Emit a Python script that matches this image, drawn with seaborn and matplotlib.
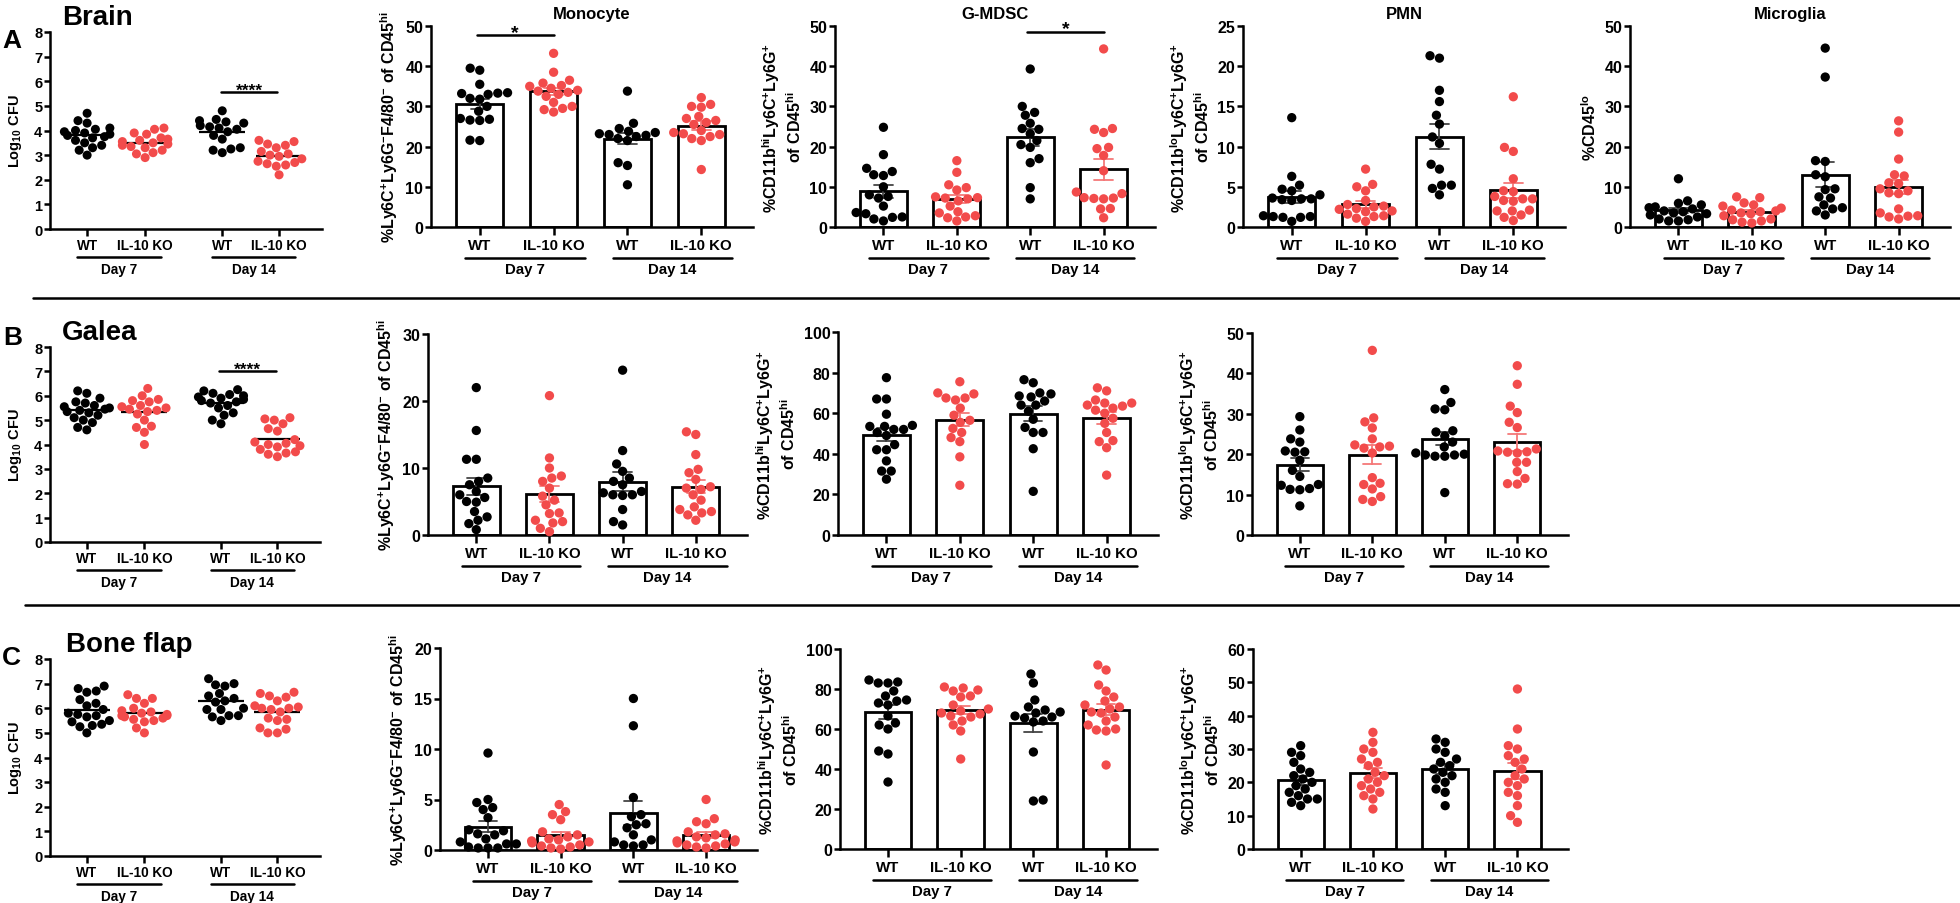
import numpy as np
import pandas as pd
import matplotlib
matplotlib.use("Agg")
import matplotlib.pyplot as plt
import matplotlib.transforms as mtransforms
from matplotlib.lines import Line2D
import seaborn as sns

# ---------------- data ----------------
group_names = ["WT D7", "KO D7", "WT D14", "KO D14"]
group_labels = ["WT", "IL-10 KO", "WT", "IL-10 KO"]
genotypes = ["WT", "IL-10 KO"]
day_labels = ["Day 7", "Day 14"]

# row A - brain
brain_cfu = [
    [4.7, 4.4, 4.3, 4.1, 4.05, 4.0, 3.95, 3.9, 3.85, 3.8, 3.75, 3.7, 3.6, 3.5, 3.4, 3.3, 3.2, 3.0],
    [4.1, 4.05, 3.9, 3.85, 3.7, 3.65, 3.6, 3.55, 3.5, 3.45, 3.4, 3.35, 3.3, 3.2, 3.1, 3.05, 2.9],
    [4.8, 4.45, 4.4, 4.35, 4.3, 4.2, 4.15, 4.1, 4.05, 3.95, 3.8, 3.65, 3.3, 3.25, 3.2, 3.1],
    [3.6, 3.55, 3.45, 3.4, 3.3, 3.15, 3.05, 3.0, 2.95, 2.85, 2.75, 2.7, 2.65, 2.6, 2.55, 2.2],
]
brain_mono = [
    [39.5, 39.0, 35.5, 33.4, 33.3, 33.2, 33.0, 32.0, 31.8, 30.0, 28.8, 27.0, 26.8, 26.6, 26.5, 21.6, 21.5],
    [43.2, 38.5, 36.5, 35.8, 35.2, 35.0, 34.5, 34.0, 33.8, 33.5, 33.0, 32.5, 31.0, 30.0, 29.5, 29.2, 28.6],
    [33.8, 25.8, 24.5, 23.8, 23.5, 23.2, 23.0, 22.8, 22.5, 22.0, 21.5, 16.0, 15.3, 10.5],
    [32.2, 30.5, 30.0, 29.8, 27.5, 27.0, 26.5, 26.0, 25.5, 24.0, 23.5, 23.2, 23.0, 22.5, 22.0, 21.5, 14.3],
]
brain_gmdsc = [
    [24.8, 18.0, 14.6, 13.8, 13.0, 12.8, 10.0, 8.0, 7.6, 7.2, 5.2, 3.6, 3.3, 2.5, 2.4, 2.0, 1.5],
    [16.5, 13.6, 10.5, 9.8, 9.2, 7.5, 7.3, 7.2, 7.0, 6.5, 5.2, 3.8, 3.5, 2.8, 2.5, 2.3, 1.5],
    [39.3, 30.0, 28.5, 27.8, 25.8, 24.5, 24.3, 23.2, 21.5, 20.5, 19.8, 17.0, 16.0, 9.8, 7.0],
    [44.3, 24.5, 24.3, 23.5, 19.8, 19.5, 17.8, 14.0, 8.7, 8.3, 7.3, 7.2, 7.1, 7.0, 4.6, 4.5, 2.3],
]
brain_pmn = [
    [13.6, 6.3, 5.2, 4.7, 4.5, 4.0, 3.6, 3.5, 3.5, 3.4, 3.3, 1.4, 1.3, 1.3, 1.2, 1.2, 0.7],
    [7.2, 5.3, 5.0, 4.5, 3.3, 2.8, 2.6, 2.5, 2.3, 2.2, 2.0, 1.9, 1.6, 1.4, 1.3, 1.1, 0.7],
    [21.3, 21.0, 17.0, 15.6, 13.9, 12.8, 11.2, 10.4, 7.8, 7.2, 5.2, 5.2, 4.8, 4.0],
    [16.2, 9.9, 9.4, 6.0, 4.5, 4.4, 3.8, 3.5, 3.5, 3.3, 3.2, 2.1, 2.0, 2.0, 1.5, 1.2, 0.8],
]
brain_micro = [
    [12.0, 6.5, 5.9, 5.5, 5.0, 4.8, 4.5, 4.0, 3.8, 3.5, 3.3, 3.0, 2.5, 2.0, 1.8, 1.5, 1.5],
    [7.5, 7.3, 6.0, 5.5, 5.2, 4.7, 4.2, 4.0, 3.8, 3.5, 3.3, 2.8, 2.0, 1.8, 1.5, 1.2, 1.0],
    [44.5, 37.3, 16.5, 16.3, 13.0, 12.5, 9.5, 9.3, 7.5, 7.2, 5.5, 4.8, 4.5, 4.0, 3.0],
    [26.4, 23.6, 16.9, 13.0, 12.7, 11.0, 10.8, 9.5, 9.0, 8.5, 8.3, 4.5, 3.5, 2.8, 2.7, 2.5, 2.0],
]

# row B - galea
galea_cfu = [
    [6.2, 6.1, 5.9, 5.75, 5.7, 5.6, 5.55, 5.5, 5.45, 5.4, 5.35, 5.3, 5.2, 5.1, 5.0, 4.9, 4.7, 4.6],
    [6.3, 6.0, 5.85, 5.8, 5.75, 5.6, 5.55, 5.5, 5.45, 5.4, 5.35, 5.25, 5.0, 4.75, 4.7, 4.5, 4.0],
    [6.25, 6.2, 6.1, 6.05, 6.0, 5.95, 5.9, 5.85, 5.8, 5.75, 5.7, 5.6, 5.5, 5.3, 5.2, 5.0, 4.85],
    [5.1, 5.05, 5.0, 4.85, 4.65, 4.55, 4.2, 4.1, 4.05, 4.0, 3.95, 3.9, 3.8, 3.7, 3.65, 3.6, 3.5],
]
galea_mono = [
    [22.0, 15.6, 11.3, 11.3, 8.5, 8.0, 7.5, 6.5, 6.0, 5.6, 5.0, 4.9, 3.5, 2.7, 2.2, 1.7, 0.8],
    [20.8, 11.5, 10.0, 8.8, 8.5, 8.0, 7.0, 5.8, 5.2, 4.5, 3.3, 3.2, 2.2, 2.0, 1.8, 1.0, 0.5],
    [24.6, 12.6, 10.6, 9.5, 8.5, 8.0, 7.5, 6.5, 6.3, 6.0, 6.0, 5.9, 3.8, 2.0, 1.5],
    [15.4, 15.0, 12.0, 9.8, 9.3, 8.3, 7.2, 7.0, 6.8, 6.0, 5.2, 4.2, 3.8, 3.5, 3.3, 3.0, 2.2],
]
galea_gmdsc = [
    [77.5, 67.0, 67.0, 59.5, 54.0, 53.5, 53.5, 52.0, 52.0, 50.5, 49.0, 44.5, 42.0, 42.0, 36.5, 31.5, 31.5, 27.5],
    [75.5, 70.0, 69.5, 67.5, 67.5, 66.5, 62.5, 59.0, 56.5, 55.5, 52.5, 50.5, 48.0, 46.0, 38.5, 24.5],
    [76.5, 75.0, 70.0, 69.5, 68.0, 68.5, 66.0, 64.0, 64.0, 61.0, 57.0, 53.0, 50.5, 50.5, 42.5, 21.5],
    [72.5, 71.0, 66.5, 65.0, 65.0, 64.0, 63.5, 62.5, 61.5, 60.0, 57.5, 55.0, 50.5, 46.5, 46.0, 43.0, 29.5],
]
galea_pmn = [
    [29.3, 26.0, 23.8, 23.0, 20.8, 20.6, 20.5, 18.5, 16.0, 14.5, 12.5, 12.3, 11.5, 11.3, 11.2, 7.2],
    [45.7, 29.0, 28.0, 26.5, 23.8, 22.3, 22.0, 21.8, 21.5, 20.3, 14.2, 12.8, 12.5, 11.4, 9.5, 8.8, 8.3],
    [36.0, 32.8, 31.2, 31.0, 25.8, 25.5, 24.5, 23.0, 21.8, 20.3, 20.0, 19.8, 19.8, 19.5, 19.5, 10.5],
    [41.9, 37.3, 31.9, 30.3, 27.9, 26.6, 21.3, 20.8, 20.6, 20.5, 20.3, 18.0, 18.0, 15.7, 14.0, 12.7, 12.6],
]

# row C - bone flap
bone_cfu = [
    [6.9, 6.8, 6.7, 6.65, 6.35, 6.2, 6.1, 5.95, 5.8, 5.75, 5.7, 5.65, 5.5, 5.45, 5.35, 5.3, 5.25, 5.0],
    [6.55, 6.4, 6.4, 6.2, 6.0, 5.9, 5.85, 5.8, 5.75, 5.7, 5.7, 5.65, 5.6, 5.55, 5.5, 5.45, 5.2, 5.0],
    [7.2, 7.0, 6.95, 6.9, 6.6, 6.5, 6.4, 6.3, 6.25, 6.0, 5.95, 5.95, 5.7, 5.65, 5.7, 5.5],
    [6.65, 6.6, 6.5, 6.45, 6.3, 6.1, 6.05, 6.0, 6.0, 5.95, 5.85, 5.6, 5.55, 5.5, 5.2, 5.15, 5.0, 5.0],
]
bone_mono = [
    [9.6, 5.0, 4.7, 4.2, 4.0, 3.2, 2.0, 1.9, 1.6, 1.5, 1.1, 0.8, 0.6, 0.6, 0.3, 0.2, 0.2, 0.2],
    [4.5, 3.8, 3.5, 3.0, 1.8, 1.5, 1.3, 1.1, 1.0, 0.9, 0.8, 0.7, 0.5, 0.4, 0.3, 0.2, 0.1],
    [15.0, 12.3, 5.2, 3.5, 3.3, 2.6, 2.5, 2.2, 1.5, 1.0, 0.8, 0.5, 0.5, 0.4],
    [5.0, 3.1, 2.8, 2.6, 1.8, 1.6, 1.5, 1.3, 1.2, 1.0, 0.9, 0.8, 0.7, 0.6, 0.5, 0.4, 0.3, 0.2],
]
bone_gmdsc = [
    [84.5, 83.5, 83.0, 83.0, 79.0, 76.5, 74.5, 74.0, 73.0, 72.0, 66.5, 63.0, 62.0, 60.0, 49.0, 47.5, 33.5],
    [81.0, 80.5, 79.5, 79.0, 76.5, 76.0, 72.0, 70.0, 69.0, 68.0, 67.5, 66.5, 66.0, 64.0, 62.0, 59.0, 45.0],
    [87.5, 83.0, 74.5, 71.0, 69.5, 68.5, 68.0, 66.5, 66.0, 65.5, 64.0, 63.5, 48.5, 24.5, 24.0],
    [92.0, 89.5, 82.0, 79.0, 76.0, 74.0, 72.0, 71.0, 70.0, 68.5, 68.0, 66.0, 64.0, 62.0, 60.0, 59.5, 59.0, 42.0],
]
bone_pmn = [
    [31, 29, 28, 26, 24, 23, 22, 21, 20, 19, 18, 17, 16, 15, 15, 14, 13],
    [35, 32, 30, 29, 27, 26, 25, 23, 22, 21, 20, 19, 18, 17, 16, 15, 12],
    [33, 32, 30, 29, 27, 26, 25, 24, 23, 22, 21, 20, 18, 17, 13],
    [48, 36, 31, 30, 28, 27, 26, 24, 22, 21, 20, 19, 17, 16, 13, 10, 8],
]

ylab_mono = "%Ly6C$^{+}$Ly6G$^{-}$F4/80$^{-}$ of CD45$^{hi}$"
ylab_gmdsc = "%CD11b$^{hi}$Ly6C$^{+}$Ly6G$^{+}$\nof CD45$^{hi}$"
ylab_pmn = "%CD11b$^{lo}$Ly6C$^{+}$Ly6G$^{+}$\nof CD45$^{hi}$"
ylab_micro = "%CD45$^{lo}$"

# ---------------- style ----------------
sns.set_style("ticks")
plt.rcParams.update({
    "font.family": ["Liberation Sans", "DejaVu Sans"],
    "font.weight": "bold",
    "axes.labelweight": "bold",
    "axes.titleweight": "bold",
    "mathtext.default": "regular",
    "axes.linewidth": 1.8,
    "axes.edgecolor": "black",
    "axes.labelcolor": "black",
    "text.color": "black",
    "xtick.color": "black",
    "ytick.color": "black",
})

RED = "#F24B4B"
palette = {"WT": "black", "IL-10 KO": RED}
err_colors = {"WT": "#444444", "IL-10 KO": "#F47878"}
cfu_pos = [0, 1, 2.33, 3.31]

W, H = 1960, 904
fig = plt.figure(figsize=(W / 100, H / 100), dpi=100)


def add_ax(box):
    l, t, r, b = box
    return fig.add_axes([l / W, 1 - b / H, (r - l) / W, (b - t) / H])


def frame(values, xs):
    rows = []
    for i, vals in enumerate(values):
        for v in vals:
            rows.append({"x": xs[i], "geno": genotypes[i % 2], "val": v})
    return pd.DataFrame(rows)


def style_axis(ax, ymax, step, xfs, yfs, xlen=6, xpad=3):
    ax.set_ylim(0, ymax)
    ax.set_yticks(np.arange(0, ymax + step / 2, step))
    sns.despine(ax=ax)
    ax.tick_params(axis="y", length=4, width=1.8, pad=1.5, labelsize=yfs)
    ax.tick_params(axis="x", length=xlen, width=1.8, pad=xpad, labelsize=xfs)
    for c in ax.collections:
        c.set_clip_on(False)


def day_brackets(ax, xs, lo, hi, line_off, text_off, fs):
    trans = ax.get_xaxis_transform()
    line_t = mtransforms.offset_copy(trans, fig=fig, y=-line_off, units="points")
    for k, day in enumerate(day_labels):
        a, b = xs[2 * k] + lo, xs[2 * k + 1] + hi
        ax.plot([a, b], [0, 0], color="black", lw=1.8, transform=line_t, clip_on=False)
        ax.annotate(day, xy=((a + b) / 2, 0), xycoords=trans, xytext=(0, -text_off),
                    textcoords="offset points", ha="center", va="center", fontsize=fs)


def sig_bar(ax, x0, x1, y, text, fs):
    ax.plot([x0, x1], [y, y], color="black", lw=1.8, clip_on=False)
    ax.annotate(text, xy=((x0 + x1) / 2, y), xytext=(0, -4), textcoords="offset points",
                ha="center", va="bottom", fontsize=fs, annotation_clip=False)


def cfu_panel(box, values, sig_y=None):
    ax = add_ax(box)
    df = frame(values, cfu_pos)
    means = df.groupby("x", sort=False)["val"].mean()
    xs = np.array(means.index, dtype=float)
    ax.hlines(means.values, xs - 0.4, xs + 0.4, color="black", lw=1.6, zorder=0.5)
    sns.swarmplot(data=df, x="x", y="val", hue="geno", palette=palette, native_scale=True,
                  size=6.5, linewidth=0, legend=False, warn_thresh=1, ax=ax)
    ax.set_xlim(-0.64, 4.05)
    ax.set_xticks(cfu_pos)
    ax.set_xticklabels(group_labels)
    ax.set_xlabel("")
    ax.set_ylabel("Log$_{10}$ CFU", fontsize=10.5, labelpad=7)
    style_axis(ax, 8, 1, 9.8, 10.5, xlen=5, xpad=1.5)
    day_brackets(ax, cfu_pos, -0.17, 0.28, 20.5, 28.5, 9.8)
    if sig_y is not None:
        sig_bar(ax, cfu_pos[2] - 0.03, cfu_pos[3] - 0.03, sig_y, "****", 12.5)
    return ax


def bar_panel(box, values, ymax, step, ylabel, title=None, sig=None):
    ax = add_ax(box)
    df = frame(values, group_names)
    for geno in genotypes:
        sns.barplot(data=df[df["geno"] == geno], x="x", y="val", order=group_names,
                    color="white", edgecolor="black", linewidth=2.0, width=0.64,
                    errorbar="se", capsize=0.25,
                    err_kws={"color": err_colors[geno], "linewidth": 1.3}, ax=ax)
    sns.swarmplot(data=df, x="x", y="val", order=group_names, hue="geno", palette=palette,
                  size=6.7, linewidth=0, legend=False, warn_thresh=1, ax=ax)
    ax.set_xlim(-0.66, 3.7)
    ax.set_xticks(range(4))
    ax.set_xticklabels(group_labels)
    ax.set_xlabel("")
    ax.set_ylabel(ylabel, fontsize=11.5, labelpad=4)
    style_axis(ax, ymax, step, 10.8, 11.5, xlen=6, xpad=2)
    day_brackets(ax, list(range(4)), -0.2, 0.42, 22, 30.5, 10.8)
    if title:
        ax.set_title(title, fontsize=12, pad=6)
    if sig is not None:
        i, j, y = sig
        sig_bar(ax, i - 0.04, j, y, "*", 14)
    return ax


# ---------------- row A: brain ----------------
cfu_panel((50, 33, 322, 230), brain_cfu, sig_y=5.55)
bar_panel((431, 27, 753, 228), brain_mono, 50, 10, ylab_mono, "Monocyte", (0, 1, 47.7))
bar_panel((835, 27, 1155, 228), brain_gmdsc, 50, 10, ylab_gmdsc, "G-MDSC", (2, 3, 48.6))
bar_panel((1243, 27, 1565, 228), brain_pmn, 25, 5, ylab_pmn, "PMN")
bar_panel((1630, 27, 1950, 228), brain_micro, 50, 10, ylab_micro, "Microglia")

# ---------------- row B: galea ----------------
cfu_panel((50, 348, 320, 543), galea_cfu, sig_y=7.0)
bar_panel((428, 335, 747, 536), galea_mono, 30, 10, ylab_mono)
bar_panel((838, 333, 1158, 536), galea_gmdsc, 100, 20, ylab_gmdsc)
bar_panel((1252, 334, 1568, 536), galea_pmn, 50, 10, ylab_pmn)

# ---------------- row C: bone flap ----------------
cfu_panel((50, 660, 320, 857), bone_cfu)
bar_panel((440, 649, 757, 851), bone_mono, 20, 5, ylab_mono)
bar_panel((840, 650, 1157, 850), bone_gmdsc, 100, 20, ylab_gmdsc)
bar_panel((1253, 650, 1568, 850), bone_pmn, 60, 10, ylab_pmn)


# ---------------- panel letters, tissue names, separators ----------------
def fig_text(x, y, s, size):
    fig.text(x / W, 1 - y / H, s, fontsize=size, fontweight="bold", va="baseline", ha="left")


fig_text(2, 48, "A", 19)
fig_text(62, 25, "Brain", 20)
fig_text(3, 345, "B", 19)
fig_text(62, 340, "Galea", 20)
fig_text(2, 665, "C", 19)
fig_text(66, 652, "Bone flap", 20)

for y, x0 in [(299, 33), (606, 25)]:
    fig.add_artist(Line2D([x0 / W, 1.0], [1 - y / H, 1 - y / H], color="black", lw=1.8))

fig.savefig("out.png", dpi=100)
